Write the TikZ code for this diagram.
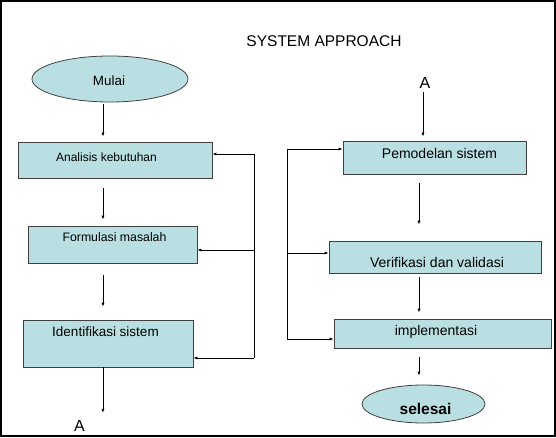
\documentclass[tikz,border=0pt]{standalone}
\usepackage{fontspec}
\setmainfont{Liberation Sans}
\usepackage{tikz}
\usetikzlibrary{arrows.meta,shapes.geometric}

\definecolor{boxfill}{RGB}{186,223,226}
\definecolor{edgegray}{RGB}{64,64,64}

\begin{document}
\begin{tikzpicture}[x=1pt,y=-1pt,line width=0.8pt,
        arr/.style={-{Latex[length=4pt,width=3.2pt]}},
        box node/.style={rectangle,draw=edgegray,fill=boxfill,inner sep=0pt},
        end node/.style={ellipse,draw=edgegray,fill=boxfill,inner sep=0pt}]

    \useasboundingbox (0,0) rectangle (556,438);
    \draw[line width=2pt] (1,1) rectangle (555,436);

    \node[font=\fontsize{15.5}{18}\selectfont] (title) at (324,41) {SYSTEM APPROACH};

    \node[end node, minimum width=156pt, minimum height=46pt, text height=12.6pt, text depth=0pt,
        font=\fontsize{13.4}{16}\selectfont] (mulai) at (110,79) {\hspace*{-2pt}Mulai};
    \node[box node, minimum width=194pt, minimum height=36pt, text height=9pt, text depth=6.4pt,
        font=\fontsize{12}{14}\selectfont] (analisis) at (115,160) {\hspace*{-17pt}Analisis kebutuhan};
    \node[box node, minimum width=169pt, minimum height=37pt, text height=9pt, text depth=15.1pt,
        font=\fontsize{12.3}{14}\selectfont] (formulasi) at (112.5,244.5) {\hspace*{4pt}Formulasi masalah};
    \node[box node, minimum width=170pt, minimum height=47pt, text height=10pt, text depth=23.3pt,
        font=\fontsize{13.5}{16}\selectfont] (identifikasi) at (108,343.5) {\hspace*{-5pt}Identifikasi sistem};
    \node[font=\fontsize{16}{19}\selectfont] (aL) at (79.5,426) {A};

    \node[font=\fontsize{16}{19}\selectfont] (aR) at (425,83) {A};
    \node[box node, minimum width=183pt, minimum height=33pt, text height=10pt, text depth=8.9pt,
        font=\fontsize{14}{17}\selectfont] (pemodelan) at (434.5,157.5) {\hspace*{10pt}Pemodelan sistem};
    \node[box node, minimum width=212pt, minimum height=32pt, text height=20.1pt, text depth=0pt,
        font=\fontsize{14}{17}\selectfont] (verifikasi) at (435,257) {\hspace*{4pt}Verifikasi dan validasi};
    \node[box node, minimum width=217pt, minimum height=29pt, text height=10pt, text depth=5.9pt,
        font=\fontsize{14}{17}\selectfont] (implementasi) at (442.5,333.5) {\hspace*{-13pt}implementasi};
    \node[end node, minimum width=123pt, minimum height=38pt, text height=21.2pt, text depth=0pt,
        font=\fontsize{15.5}{18}\selectfont\bfseries] (selesai) at (423.5,404) {\hspace*{4pt}selesai};

    \coordinate (lx) at (103,0);
    \coordinate (rx) at (419,0);
    \coordinate (ax) at (423,0);

    \draw[arr, shorten <=1.3pt, shorten >=5pt] (mulai.south -| lx) -- (analisis.north -| lx);
    \draw[arr, shorten <=10pt, shorten >=6pt] (analisis.south -| lx) -- (formulasi.north -| lx);
    \draw[arr, shorten <=12pt, shorten >=13pt] (formulasi.south -| lx) -- (identifikasi.north -| lx);
    \draw[arr, shorten >=4pt] (identifikasi.south -| lx) -- (aL.north -| lx);

    \draw[arr, shorten >=4pt] (aR.south -| ax) -- (pemodelan.north -| ax);
    \draw[arr, shorten <=9pt, shorten >=16pt] (pemodelan.south -| rx) -- (verifikasi.north -| rx);
    \draw[arr, shorten <=4pt, shorten >=6pt] (verifikasi.south -| rx) -- (implementasi.north -| rx);
    \draw[arr, shorten <=9pt, shorten >=9pt] (implementasi.south -| rx) -- (selesai.north -| rx);

    \coordinate (fbl1) at (254,154);
    \coordinate (fbl2) at (254,250);
    \coordinate (fbl3) at (254,358);
    \draw (fbl3) -- (fbl1);
    \draw[arr] (fbl1) -- (analisis.east |- fbl1);
    \draw[arr] (fbl2) -- (formulasi.east |- fbl2);
    \draw[arr] (fbl3) -- (identifikasi.east |- fbl3);

    \coordinate (fbr1) at (287,149);
    \coordinate (fbr2) at (287,253);
    \coordinate (fbr3) at (287,339);
    \draw (fbr3) -- (fbr1);
    \draw[arr] (fbr1) -- (pemodelan.west |- fbr1);
    \draw[arr] (fbr2) -- (verifikasi.west |- fbr2);
    \draw[arr] (fbr3) -- (implementasi.west |- fbr3);

\end{tikzpicture}
\end{document}
